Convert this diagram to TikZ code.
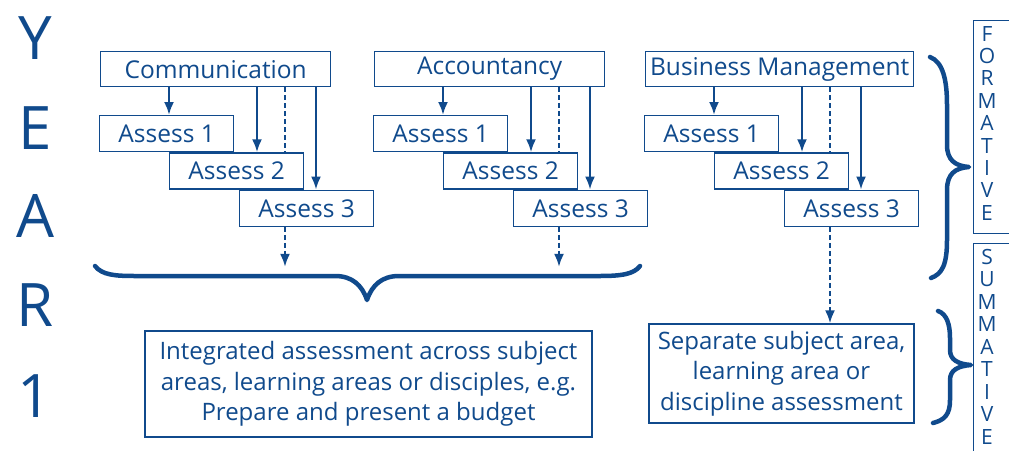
\documentclass[tikz,border=0pt]{standalone}
\usepackage{fontspec}
\setmainfont{Open Sans}
\usepackage{tikz}
\usetikzlibrary{arrows,arrows.meta,positioning,calc,shapes}

\definecolor{edublue}{RGB}{16,74,140}

\tikzset{
  subj/.style={draw=edublue, line width=1.3pt, text=edublue, inner sep=0pt,
    minimum height=35pt, font=\fontsize{24.5}{27}\selectfont},
  assess/.style={subj, minimum width=134pt, minimum height=36pt, anchor=north west},
  outcome/.style={subj, align=center, font=\fontsize{24}{30.5}\selectfont},
  flow/.style={edublue, line width=2.3pt, -{Latex[length=13pt,width=10pt]}},
  dflow/.style={flow, dash pattern=on 5pt off 3pt},
  dlink/.style={edublue, line width=2.2pt, dash pattern=on 5pt off 3pt},
  brace/.style={edublue, line width=4.5pt, line cap=round, line join=round},
  stack/.style={text=edublue, align=center, inner sep=0pt}
}

\begin{document}
\begin{tikzpicture}[x=1pt,y=-1pt]
\useasboundingbox (0,0) rectangle (1009,450);
\clip (0,0) rectangle (1009,450);

% Year label
\foreach \l/\y in {Y/38, E/128, A/216, R/305, 1/396}
  \node[stack, font=\fontsize{60}{60}\selectfont] (yr\l) at (35,\y) {\l};

% Subjects and their assessments
\foreach \s/\x/\w/\lab in {com/100/230/Communication, acc/374/230/Accountancy, bus/645/268/Business Management} {
  \node[subj, minimum width=\w pt, anchor=north west] (\s) at (\x,51) {\lab};
  \node[assess] (\s1) at (\x-1,115) {Assess 1};
  \node[assess] (\s2) at ($(\s1.south west)+(70,0)$) {Assess 2};
  \node[assess] (\s3) at ($(\s2.south west)+(70,0)$) {Assess 3};
  \coordinate (\s-a) at ($(\s1.north west)+(70,0)$);
  \coordinate (\s-b) at ($(\s2.north west)+(88,0)$);
  \coordinate (\s-c) at ($(\s2.north west)+(116,0)$);
  \coordinate (\s-e) at ($(\s3.north west)+(77,0)$);
  \coordinate (\s-d) at ($(\s3.south west)+(46,0)$);
  \draw[flow] (\s.south -| \s-a) -- (\s-a);
  \draw[flow] (\s.south -| \s-b) -- (\s-b);
  \draw[dlink] (\s.south -| \s-c) -- (\s-c);
  \draw[flow] (\s.south -| \s-e) -- (\s-e);
}

% Outcomes
\node[outcome, minimum width=447pt, minimum height=106pt] (integ) at (368.5,384)
  {Integrated assessment across subject\\areas, learning areas or disciples, e.g.\\Prepare and present a budget};
\node[outcome, minimum width=265pt, minimum height=99pt] (sep) at (781.5,373.5)
  {Separate subject area,\\learning area or\\discipline assessment};

% Dashed links to the summative part
\coordinate (com-f) at ($(com-d)+(0,40)$);
\coordinate (acc-f) at ($(acc-d)+(0,40)$);
\draw[dflow] (com-d) -- (com-f);
\draw[dflow] (acc-d) -- (acc-f);
\draw[dflow] (bus-d) -- (bus-d |- sep.north);

% Braces
\draw[brace] (95,266) .. controls (102,275) and (115,276) .. (135,276)
  -- (335,276) .. controls (352,276) and (362,285) .. (367,300)
  .. controls (372,285) and (382,276) .. (399,276)
  -- (600,276) .. controls (622,276) and (634,274) .. (640,266);
\draw[brace] (930,57) .. controls (943,62) and (947,80) .. (947,105)
  -- (947,145) .. controls (947,160) and (955,166) .. (969,167)
  .. controls (955,168) and (947,174) .. (947,190)
  -- (947,240) .. controls (947,265) and (942,274) .. (931,278);
\draw[brace] (938,311) .. controls (947,314) and (950,325) .. (950,338)
  -- (950,350) .. controls (950,360) and (958,364) .. (971,365)
  .. controls (958,366) and (950,370) .. (950,380)
  -- (950,400) .. controls (950,414) and (945,420) .. (933,423);

% Formative / summative labels
\node[draw=edublue, line width=1.3pt, anchor=north west, minimum width=42pt, minimum height=213pt] (formbox) at (973,20) {};
\node[stack, anchor=north, font=\fontsize{21}{22.4}\selectfont] (formtxt) at ($(formbox.north west)+(14,6)$)
  {F\\O\\R\\M\\A\\T\\I\\V\\E};
\node[draw=edublue, line width=1.3pt, anchor=north west, minimum width=42pt, minimum height=230pt] (sumbox) at (973,243) {};
\node[stack, anchor=north, font=\fontsize{21}{22.5}\selectfont] (sumtxt) at ($(sumbox.north west)+(14,6)$)
  {S\\U\\M\\M\\A\\T\\I\\V\\E};
\end{tikzpicture}
\end{document}
